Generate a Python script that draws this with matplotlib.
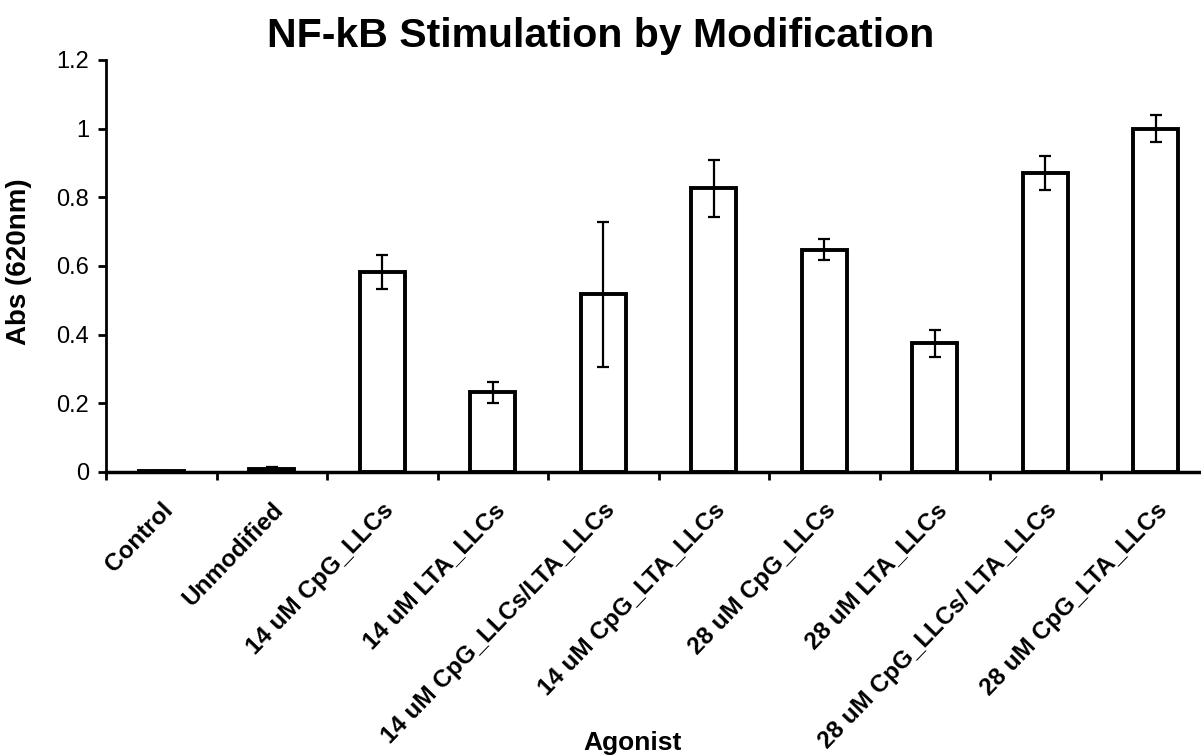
import matplotlib
matplotlib.use("Agg")
import matplotlib.pyplot as plt
import matplotlib.transforms as mtransforms
import numpy as np

categories = ["Control", "Unmodified", "14 uM CpG_LLCs", "14 uM LTA_LLCs",
              "14 uM CpG_LLCs/LTA_LLCs", "14 uM CpG_LTA_LLCs", "28 uM CpG_LLCs",
              "28 uM LTA_LLCs", "28 uM CpG_LLCs/ LTA_LLCs", "28 uM CpG_LTA_LLCs"]
values = [0.002, 0.010, 0.582, 0.232, 0.517, 0.826, 0.648, 0.375, 0.870, 1.000]
errors = [0.0, 0.005, 0.050, 0.030, 0.210, 0.083, 0.030, 0.040, 0.050, 0.040]
yticks = [0, 0.2, 0.4, 0.6, 0.8, 1, 1.2]
yticklabels = ["0", "0.2", "0.4", "0.6", "0.8", "1", "1.2"]

plt.rcParams['font.family'] = ['Liberation Sans', 'DejaVu Sans']

fig = plt.figure(figsize=(12.01, 7.55), dpi=100)
W, H = 1201, 755
left_px, right_px, top_px, bottom_px = 106, 1211, 60, 472
ax = fig.add_axes([left_px / W, (H - bottom_px) / H,
                   (right_px - left_px) / W, (bottom_px - top_px) / H])

x = np.arange(len(categories))
ax.bar(x, values, width=0.41, color='white', edgecolor='black', linewidth=2.8, zorder=2)
ax.errorbar(x, values, yerr=errors, fmt='none', ecolor='black', elinewidth=1.6,
            capsize=4, capthick=1.6, zorder=3)

ax.set_xlim(-0.5, len(categories) - 0.5)
ax.set_ylim(0, 1.2)
ax.set_yticks(yticks)
ax.set_yticklabels(yticklabels, fontsize=17)

ax.set_xticks(x)
ax.set_xticklabels(categories, rotation=46, ha='right', va='top',
                   rotation_mode='anchor', fontsize=17.5, fontweight='bold')
offset = mtransforms.ScaledTranslation(5 / 100, 0, fig.dpi_scale_trans)
for lab in ax.get_xticklabels():
    lab.set_transform(lab.get_transform() + offset)
ax.tick_params(axis='x', which='major', length=0, pad=19)
ax.set_xticks(np.arange(-0.5, len(categories) + 0.5, 1), minor=True)
ax.tick_params(axis='x', which='minor', length=6, width=2, direction='out')
ax.tick_params(axis='y', length=6, width=2, direction='out', pad=6)

for s in ['top', 'right']:
    ax.spines[s].set_visible(False)
ax.spines['bottom'].set_linewidth(2.5)
ax.spines['left'].set_linewidth(2)

fig.text(601 / W, 1 - 47 / H, "NF-kB Stimulation by Modification", fontsize=29.5,
         fontweight='bold', ha='center', va='baseline')
fig.text(19 / W, 1 - 262 / H, "Abs (620nm)", fontsize=20, fontweight='bold',
         ha='center', va='center', rotation=90)
fig.text(633 / W, 1 - 750 / H, "Agonist", fontsize=19, fontweight='bold',
         ha='center', va='baseline')

fig.savefig("out.png", dpi=100)
